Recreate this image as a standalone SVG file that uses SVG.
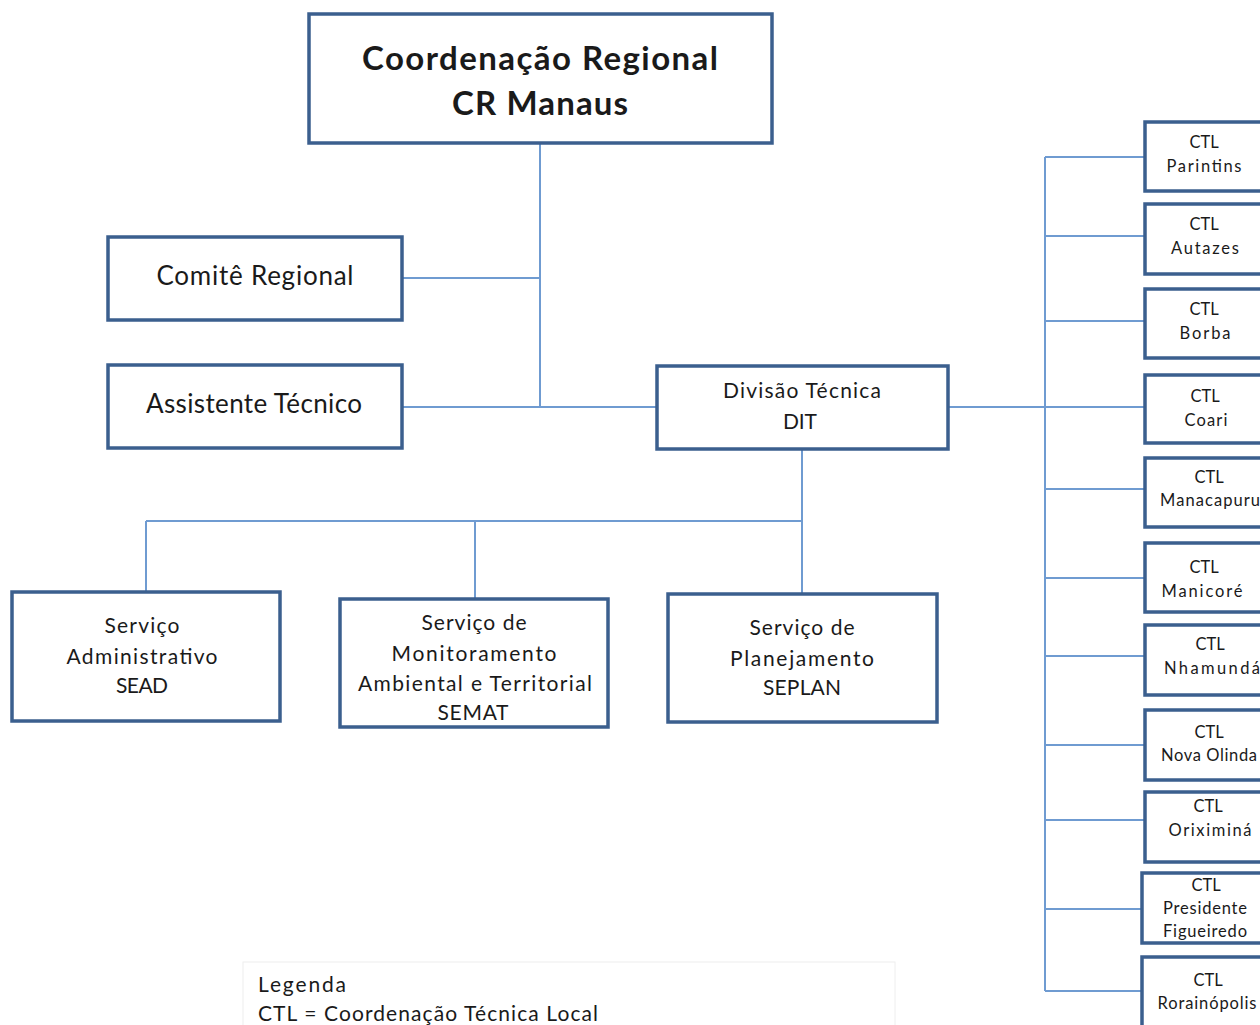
<svg xmlns="http://www.w3.org/2000/svg" width="1260" height="1025" viewBox="0 0 1260 1025">
<style>
.box{fill:#fff;stroke:#3b5f8e;stroke-width:3.5}
.ln{stroke:#6f9bd1;stroke-width:2;fill:none}
text{font-family:Lato,"Liberation Sans",sans-serif;fill:#1a1a1a;text-anchor:middle}
.t{font-size:33px;font-weight:bold}
.m{font-size:26px}
.s{font-size:21px}
.c{font-size:16.5px}
.lg{font-size:21px;text-anchor:start}
</style>
<rect width="1260" height="1025" fill="#fff"/>
<g id="connectors">
<path class="ln" d="M540 143V407M402 278H540M402 407H657M948 407H1045M1045 157V991"/>
<path class="ln" d="M1045 157H1145M1045 236H1145M1045 321H1145M1045 407H1145M1045 489H1145M1045 578H1145M1045 656H1145M1045 745H1145M1045 820H1145M1045 909H1142M1045 991H1142"/>
<path class="ln" d="M802 449V594M146 521H802M146 521V592M475 521V599"/>
</g>
<g id="cr"><rect class="box" x="309" y="14" width="463" height="129"/>
<text class="t" x="540" y="70" textLength="356">Coordenação Regional</text>
<text class="t" x="540" y="115" textLength="176">CR Manaus</text></g>
<g id="comite"><rect class="box" x="108" y="237" width="294" height="83"/>
<text class="m" x="255" y="285" textLength="197">Comitê Regional</text></g>
<g id="assistente"><rect class="box" x="108" y="365" width="294" height="83"/>
<text class="m" x="254" y="413" textLength="216">Assistente Técnico</text></g>
<g id="dit"><rect class="box" x="657" y="366" width="291" height="83"/>
<text class="s" x="802" y="398" textLength="158">Divisão Técnica</text>
<text class="s" x="800" y="429" textLength="34">DIT</text></g>
<g id="sead"><rect class="box" x="12" y="592" width="268" height="129"/>
<text class="s" x="142" y="633" textLength="75">Serviço</text>
<text class="s" x="142" y="664" textLength="151">Administrativo</text>
<text class="s" x="142" y="693" textLength="52">SEAD</text></g>
<g id="semat"><rect class="box" x="340" y="599" width="268" height="128"/>
<text class="s" x="474" y="630" textLength="105">Serviço de</text>
<text class="s" x="474" y="661" textLength="165">Monitoramento</text>
<text class="s" x="475" y="691" textLength="234">Ambiental e Territorial</text>
<text class="s" x="473" y="720" textLength="71">SEMAT</text></g>
<g id="seplan"><rect class="box" x="668" y="594" width="269" height="128"/>
<text class="s" x="802" y="635" textLength="105">Serviço de</text>
<text class="s" x="802" y="666" textLength="144">Planejamento</text>
<text class="s" x="802" y="695" textLength="78">SEPLAN</text></g>
<g id="ctl-parintins"><rect class="box" x="1145" y="122" width="122" height="69"/>
<text class="c" x="1204" y="148">CTL</text><text class="c" x="1204" y="172" textLength="75">Parintins</text></g>
<g id="ctl-autazes"><rect class="box" x="1145" y="204" width="122" height="70"/>
<text class="c" x="1204" y="230">CTL</text><text class="c" x="1205" y="254" textLength="68">Autazes</text></g>
<g id="ctl-borba"><rect class="box" x="1145" y="289" width="122" height="69"/>
<text class="c" x="1204" y="315">CTL</text><text class="c" x="1205" y="339" textLength="51">Borba</text></g>
<g id="ctl-coari"><rect class="box" x="1145" y="375" width="122" height="68"/>
<text class="c" x="1205" y="402">CTL</text><text class="c" x="1206" y="426" textLength="43">Coari</text></g>
<g id="ctl-manacapuru"><rect class="box" x="1145" y="458" width="122" height="69"/>
<text class="c" x="1209" y="483">CTL</text><text class="c" x="1210" y="506" textLength="100">Manacapuru</text></g>
<g id="ctl-manicore"><rect class="box" x="1145" y="543" width="122" height="69"/>
<text class="c" x="1204" y="573">CTL</text><text class="c" x="1202" y="597" textLength="81">Manicoré</text></g>
<g id="ctl-nhamunda"><rect class="box" x="1145" y="625" width="122" height="70"/>
<text class="c" x="1210" y="650">CTL</text><text class="c" x="1212" y="674" textLength="96">Nhamundá</text></g>
<g id="ctl-novaolinda"><rect class="box" x="1145" y="710" width="122" height="70"/>
<text class="c" x="1209" y="738">CTL</text><text class="c" x="1209" y="761" textLength="96">Nova Olinda</text></g>
<g id="ctl-oriximina"><rect class="box" x="1145" y="792" width="122" height="70"/>
<text class="c" x="1208" y="812">CTL</text><text class="c" x="1210" y="836" textLength="83">Oriximiná</text></g>
<g id="ctl-presidente"><rect class="box" x="1142" y="873" width="125" height="70"/>
<text class="c" x="1206" y="891">CTL</text><text class="c" x="1205" y="914" textLength="84">Presidente</text><text class="c" x="1205" y="937" textLength="84">Figueiredo</text></g>
<g id="ctl-rorainopolis"><rect class="box" x="1142" y="957" width="125" height="75"/>
<text class="c" x="1208" y="986">CTL</text><text class="c" x="1207" y="1009" textLength="99">Rorainópolis</text></g>
<g id="legenda"><rect x="243" y="962" width="652" height="70" fill="#fff" stroke="#eeeeee" stroke-width="1"/>
<text class="lg" x="258" y="992" textLength="88">Legenda</text>
<text class="lg" x="258" y="1021" textLength="340">CTL = Coordenação Técnica Local</text></g>
</svg>
